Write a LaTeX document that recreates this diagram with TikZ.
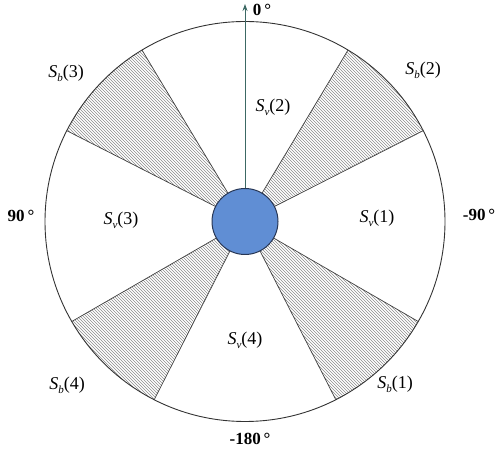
\documentclass[tikz,border=0pt]{standalone}
\usepackage{fontspec}
\setmainfont{Liberation Serif}
\usetikzlibrary{positioning, arrows.meta, calc, patterns}

\definecolor{hubblue}{RGB}{96,142,212}
\definecolor{hubedge}{RGB}{40,55,85}
\definecolor{axisteal}{RGB}{60,105,100}

\newcommand{\secv}[1]{\textit{S}\raisebox{-0.45ex}{\fontsize{11}{11}\selectfont\textit{v}}(#1)}
\newcommand{\secb}[1]{\textit{S}\raisebox{-0.45ex}{\fontsize{11}{11}\selectfont\textit{b}}(#1)}

\begin{document}
\begin{tikzpicture}[x=1pt, y=1pt,
    rim/.style={circle, draw=black!80, line width=0.9pt, minimum size=400pt, inner sep=0pt, outer sep=0pt},
    hub/.style={circle, draw=hubedge, line width=1pt, fill=hubblue, minimum size=66pt, inner sep=0pt, outer sep=0pt},
    edge/.style={draw=black!75, line width=0.7pt},
    hatch/.style={pattern=north west lines, pattern color=black!45},
    lbl/.style={font=\fontsize{18}{21}\selectfont, inner sep=0pt},
    deg/.style={font=\fontsize{17}{20}\selectfont\bfseries, inner sep=0pt}]
  \useasboundingbox (0,0) rectangle (495,452);
  \coordinate (c) at (245,230.5);
  % hatched sectors
  \foreach \a/\b in {27/59, 121/153, 210/243, 297/330} {
    \fill[hatch] ($(c)+(\a:33pt)$) -- ($(c)+(\a:200pt)$) arc[start angle=\a, end angle=\b, radius=200pt]
      -- ($(c)+(\b:33pt)$) arc[start angle=\b, end angle=\a, radius=33pt] -- cycle;
  }
  \node[rim] (rim) at (c) {};
  \foreach \a in {27, 59, 121, 153, 210, 243, 297, 330}
    \draw[edge] (c) ++(\a:33pt) -- (rim.\a);
  % heading axis
  \coordinate (tip) at (245,448);
  \draw[axisteal, line width=0.9pt, -{Stealth[length=7pt, width=5pt]}] (c) -- (tip);
  \node[hub] (hub) at (c) {};

  \node[deg] (d0) at (262,442) {0\,°};
  \node[deg] (d90) at (21,236) {90\,°};
  \node[deg] (dm90) at (479,237) {-90\,°};
  \node[deg] (dm180) at (250,13) {-180\,°};

  \node[lbl] (sv2) at (273,345) {\secv{2}};
  \node[lbl] (sv1) at (377,234) {\secv{1}};
  \node[lbl] (sv3) at (121,232) {\secv{3}};
  \node[lbl] (sv4) at (245,112) {\secv{4}};

  \node[lbl] (sb3) at (66,379) {\secb{3}};
  \node[lbl] (sb2) at (423,382) {\secb{2}};
  \node[lbl] (sb4) at (67,67) {\secb{4}};
  \node[lbl] (sb1) at (395,68) {\secb{1}};
\end{tikzpicture}
\end{document}
